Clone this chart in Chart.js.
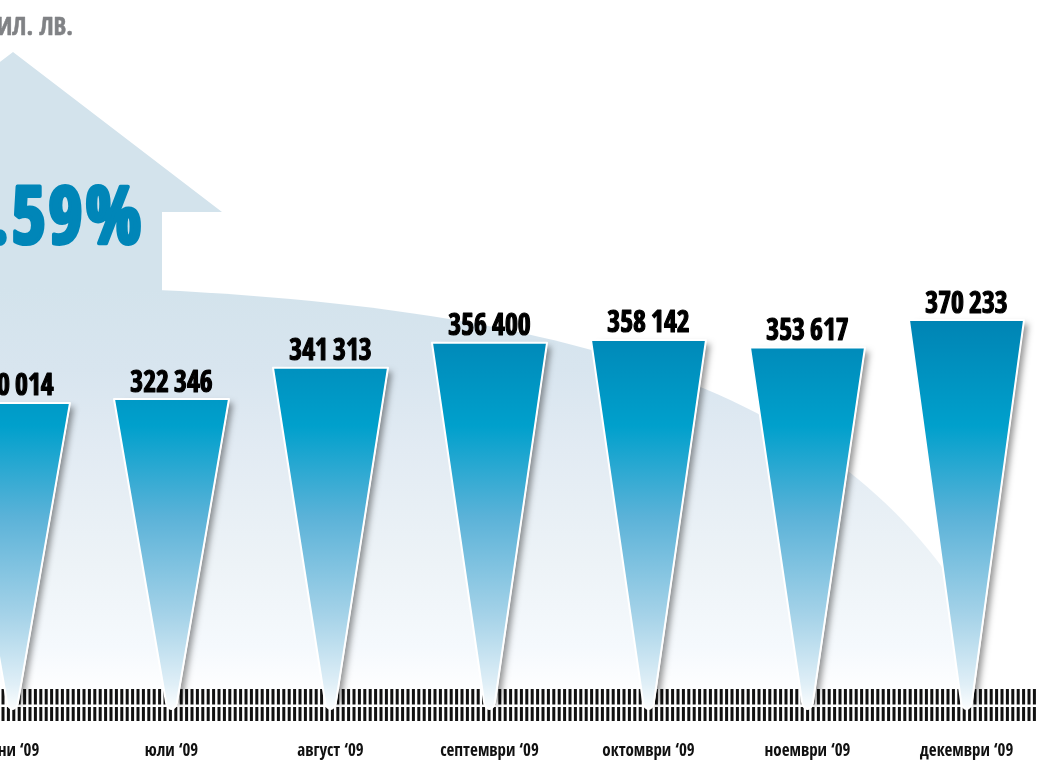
<!DOCTYPE html>
<html>
<head>
<meta charset="utf-8">
<style>
html,body{margin:0;padding:0;background:#fff;overflow:hidden;width:1038px;height:760px}
#wrap{position:relative;width:1038px;height:760px;overflow:hidden}
#c{position:absolute;left:-67px;top:0}
</style>
<script src="https://cdn.jsdelivr.net/npm/chart.js@4"></script>
</head>
<body>
<div id="wrap"><canvas id="c" width="1113" height="760" style="width:1113px;height:760px"></canvas></div>
<script>
// Monthly totals, million leva
const months = ["юни ‘09","юли ‘09","август ‘09","септември ‘09","октомври ‘09","ноември ‘09","декември ‘09"];
const totals = [320014,322346,341313,356400,358142,353617,370233];
const totalLabels = ["320 014","322 346","341 313","356 400","358 142","353 617","370 233"];
const unitLabel = "МИЛ. ЛВ.";
const growthLabel = ".59%";
const scaleFloor = 133900;
const scaleCeiling = 564170;

const OFFSET = 67;          // canvas starts left of the window
const CONDENSED = '"Open Sans Condensed","Liberation Sans",sans-serif';

function stretchedText(ctx, text, x, y, size, sx, strokeW, color, align, spacing){
  ctx.save();
  ctx.translate(x, y);
  ctx.scale(sx, 1);
  ctx.font = 'bold ' + size + 'px ' + CONDENSED;
  ctx.textAlign = align;
  ctx.textBaseline = 'alphabetic';
  ctx.letterSpacing = (spacing && spacing.letter) || '0px';
  ctx.wordSpacing = (spacing && spacing.word) || '0px';
  ctx.fillStyle = color;
  ctx.fillText(text, 0, 0);
  if (strokeW) {
    ctx.strokeStyle = color;
    ctx.lineWidth = strokeW;
    ctx.lineJoin = 'round';
    ctx.strokeText(text, 0, 0);
  }
  ctx.restore();
}

// House, dome and the perforated strip behind the bars
const backdrop = {
  id: 'backdrop',
  beforeDatasetsDraw(chart){
    const ctx = chart.ctx;
    ctx.save();
    ctx.translate(OFFSET, 0);

    ctx.fillStyle = '#d3e3ec';
    ctx.beginPath();
    ctx.moveTo(13, 52);
    ctx.lineTo(222, 212);
    ctx.lineTo(162, 212);
    ctx.lineTo(162, 300);
    ctx.lineTo(-67, 300);
    ctx.lineTo(-67, 113);
    ctx.closePath();
    ctx.fill();

    const dome = ctx.createLinearGradient(0, 288, 0, 695);
    dome.addColorStop(0, '#d3e3ec');
    dome.addColorStop(0.2, '#d8e5ef');
    dome.addColorStop(0.4, '#e2ebf3');
    dome.addColorStop(0.68, '#edf3f7');
    dome.addColorStop(0.88, '#f5f9fd');
    dome.addColorStop(1, '#ffffff');
    ctx.fillStyle = dome;
    ctx.beginPath();
    ctx.moveTo(-67, 285);
    ctx.bezierCurveTo(500, 285, 810, 365, 958, 590);
    ctx.lineTo(975, 695);
    ctx.lineTo(-67, 695);
    ctx.closePath();
    ctx.fill();

    ctx.fillStyle = '#111';
    for (let x = -3.9; x < 1045; x += 5.4) {
      ctx.fillRect(x, 689, 3, 15.5);
      ctx.fillRect(x, 707, 3, 14);
    }

    stretchedText(ctx, unitLabel, 73, 35, 25, 1, 0.5, '#808285', 'right');
    stretchedText(ctx, growthLabel, 144, 243, 80, 0.92, 4, '#0086b8', 'right', {letter: '3px'});
    ctx.restore();
  }
};

// Each bar is drawn as a wedge narrowing from its value down to the scale base
const wedges = {
  id: 'wedges',
  afterDatasetsDraw(chart){
    const ctx = chart.ctx;
    const meta = chart.getDatasetMeta(0);
    const fill = ctx.createLinearGradient(0, 320, 0, 712);
    fill.addColorStop(0, '#0084b4');
    fill.addColorStop(0.27, '#00a0cc');
    fill.addColorStop(0.5, '#5ab2d8');
    fill.addColorStop(0.75, '#a4d2e8');
    fill.addColorStop(0.93, '#e0eff7');
    fill.addColorStop(1, '#ffffff');
    meta.data.forEach((bar, i) => {
      const {x, y, base, width} = bar.getProps(['x','y','base','width'], true);
      const half = width / 2, tip = 5;
      const path = new Path2D();
      path.moveTo(x - half, y);
      path.lineTo(x + half, y);
      path.lineTo(x + tip, base - 5);
      path.quadraticCurveTo(x, base + 3, x - tip, base - 5);
      path.closePath();

      ctx.save();
      ctx.shadowColor = 'rgba(0,0,0,0.42)';
      ctx.shadowBlur = 6;
      ctx.shadowOffsetX = 4;
      ctx.shadowOffsetY = 0;
      ctx.fillStyle = '#fff';
      ctx.beginPath();
      ctx.moveTo(x - half + 6, y + 4);
      ctx.lineTo(x + half, y + 4);
      ctx.lineTo(x + tip + 1, base - 6);
      ctx.lineTo(x - tip + 4, base - 6);
      ctx.closePath();
      ctx.fill();
      ctx.restore();

      ctx.fillStyle = fill;
      ctx.fill(path);
      ctx.strokeStyle = '#fff';
      ctx.lineWidth = 2;
      ctx.lineJoin = 'round';
      ctx.stroke(path);

      stretchedText(ctx, totalLabels[i], x, y - 7.5, 30, 0.93, 1.2, '#000', 'center', {word: '-2px'});
    });
  }
};

new Chart(document.getElementById('c'), {
  type: 'bar',
  data: {
    labels: months,
    datasets: [{
      data: totals,
      base: scaleFloor,
      backgroundColor: 'transparent',
      borderWidth: 0,
      barPercentage: 0.7233,
      categoryPercentage: 1
    }]
  },
  options: {
    responsive: false,
    animation: false,
    events: [],
    layout: {padding: 0},
    plugins: {legend: {display: false}, tooltip: {enabled: false}},
    scales: {
      x: {
        grid: {display: false, drawTicks: false},
        border: {display: false},
        afterFit(scale){ scale.height = 50; },
        ticks: {
          color: '#111',
          padding: 31,
          maxRotation: 0,
          autoSkip: false,
          font: {family: CONDENSED, size: 17, weight: 'bold'}
        }
      },
      y: {
        display: false,
        min: scaleFloor,
        max: scaleCeiling
      }
    }
  },
  plugins: [backdrop, wedges]
});
</script>
</body>
</html>
